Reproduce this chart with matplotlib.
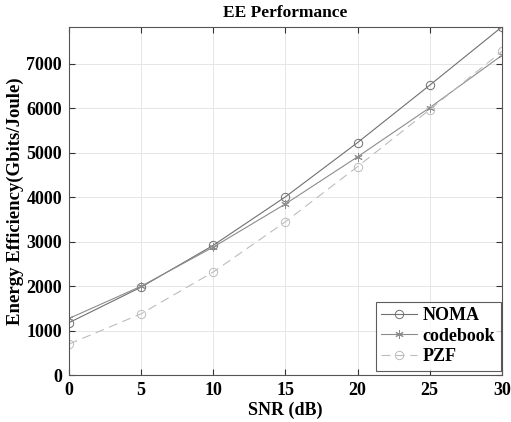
import numpy as np
import matplotlib
matplotlib.use("Agg")
import matplotlib.pyplot as plt

plt.rcParams['font.family'] = ['Liberation Serif', 'DejaVu Serif']
plt.rcParams['font.weight'] = 'bold'

snr = [0, 5, 10, 15, 20, 25, 30]
noma = [1180, 1980, 2920, 4010, 5230, 6520, 7830]
codebook = [1275, 2000, 2880, 3850, 4910, 6015, 7190]
pzf = [700, 1380, 2320, 3450, 4690, 5970, 7280]

fig = plt.figure(figsize=(5.11, 4.22), dpi=100)
ax = fig.add_axes([0.135, 0.111, 0.847, 0.825])

ax.plot(snr, noma, color='#707070', lw=0.8, marker='o', ms=6, mfc='none', mec='#707070', mew=0.7, label='NOMA')
ax.plot(snr, codebook, color='#8c8c8c', lw=0.8, marker=(6, 2, 0), ms=6, mec='#8c8c8c', mew=0.7, label='codebook')
ax.plot(snr, pzf, color='#bcbcbc', lw=0.8, ls=(0, (8, 5)), marker='o', ms=6, mfc='none', mec='#bcbcbc', mew=0.7, label='PZF')

ax.set_xlim(0, 30)
ax.set_ylim(0, 7830)
ax.set_xticks(range(0, 31, 5))
ax.set_yticks(range(0, 7001, 1000))
ax.grid(True, color='#e6e6e6', lw=0.7)
ax.set_axisbelow(True)
ax.tick_params(direction='in', top=True, right=True, length=4, labelsize=13, color='#333333', pad=5)
for lab in ax.get_xticklabels() + ax.get_yticklabels():
    lab.set_fontweight('bold')
for s in ax.spines.values():
    s.set_color('#555555')
    s.set_linewidth(0.8)

ax.set_title('EE Performance', fontsize=12.5, fontweight='bold', pad=7)
ax.set_xlabel('SNR (dB)', fontsize=13, fontweight='bold', labelpad=2)
ax.set_ylabel('Energy Efficiency(Gbits/Joule)', fontsize=13.5, fontweight='bold', labelpad=2)

leg = ax.legend(loc='lower right', bbox_to_anchor=(0.997, 0.013), fontsize=13, frameon=True,
                fancybox=False, edgecolor='#333333', handlelength=2.0, borderpad=0.3,
                labelspacing=0.2, handletextpad=0.3, borderaxespad=0.0)
leg.get_frame().set_linewidth(0.8)
for t in leg.get_texts():
    t.set_fontweight('bold')

fig.savefig('out.png', dpi=100)
